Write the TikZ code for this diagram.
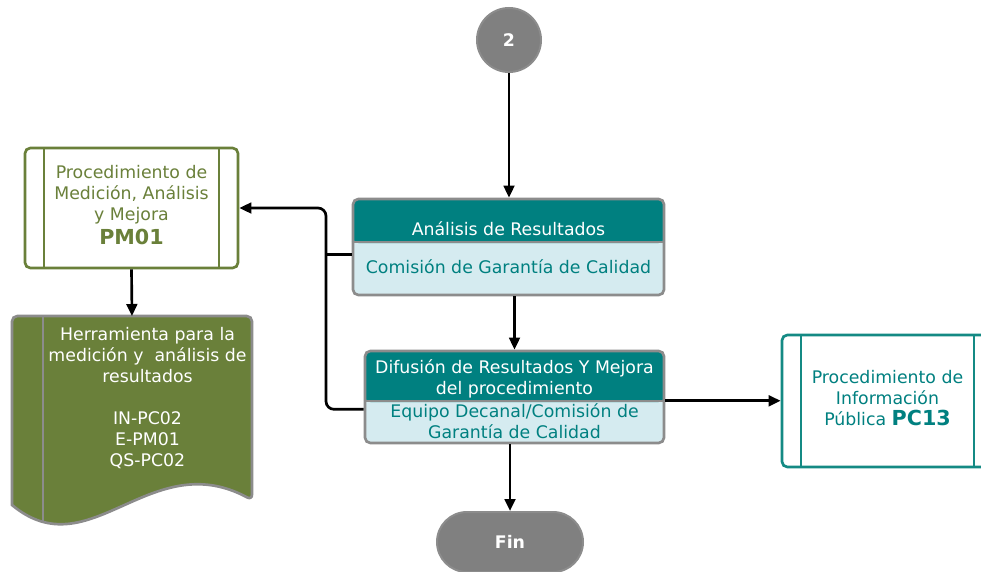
\documentclass[tikz,border=0pt]{standalone}
\usepackage{fontspec}
\setmainfont{DejaVu Sans}
\usetikzlibrary{calc,arrows.meta}
\definecolor{verdeazul}{RGB}{0,128,128}
\definecolor{celeste}{RGB}{213,235,240}
\definecolor{gris}{RGB}{140,140,140}
\definecolor{grisfondo}{RGB}{128,128,128}
\definecolor{oliva}{RGB}{106,128,58}
\definecolor{turquesa}{RGB}{20,138,132}
\tikzset{
  every node/.style={font=\fontsize{13}{15.75}\selectfont, inner sep=0pt},
  flecha/.style={line width=2pt, -{Triangle[length=9pt,width=8pt]}},
  linea/.style={line width=2pt},
  tarea/.style={draw=gris, line width=2pt, fill=celeste, rounded corners=4pt,
    path picture={\fill[verdeazul] (path picture bounding box.north west)
      rectangle ([yshift=-#1]path picture bounding box.north east);}},
  proced/.style={draw=#1, line width=2pt, fill=white, rounded corners=4pt,
    path picture={
      \draw[#1, line width=2pt] ([xshift=14.25pt]path picture bounding box.north west) -- ([xshift=14.25pt]path picture bounding box.south west);
      \draw[#1, line width=2pt] ([xshift=-14.25pt]path picture bounding box.north east) -- ([xshift=-14.25pt]path picture bounding box.south east);}},
  terminal/.style={draw=gris, line width=1.5pt, fill=grisfondo, text=white,
    font=\fontsize{13}{15}\selectfont\bfseries},
  cabtxt/.style={text=white, align=center},
  cuerpotxt/.style={text=verdeazul, align=center}
}
\begin{document}
\begin{tikzpicture}[x=0.75pt, y=-0.75pt]
\useasboundingbox (0,0) rectangle (981,571);
% conector y fin
\node[terminal, circle, minimum size=48pt] (c2) at (509,40) {2};
\node[terminal, rounded corners=22.5pt, minimum width=109.5pt, minimum height=45pt] (fin) at (510,542) {Fin};
% tareas
\node[tarea=33pt, minimum width=233.25pt, minimum height=72pt] (ana) at (508.5,247) {};
\draw[gris, line width=1.5pt] ([yshift=-33pt]ana.north west) -- ([yshift=-33pt]ana.north east);
\node[cabtxt] (anaT) at (508.5,229) {Análisis de Resultados};
\node[cuerpotxt] (anaB) at (508.5,267) {Comisión de Garantía de Calidad};
\node[tarea=38.25pt, minimum width=224.25pt, minimum height=69pt] (dif) at (514.5,397) {};
\draw[gris, line width=1.5pt] ([yshift=-38.25pt]dif.north west) -- ([yshift=-38.25pt]dif.north east);
\node[cabtxt] (difT) at (514.5,378.5) {Difusión de Resultados Y Mejora\\del procedimiento};
\node[cuerpotxt] (difB) at (514.5,421) {Equipo Decanal/Comisión de\\Garantía de Calidad};
% procedimientos
\node[proced=oliva, minimum width=159.75pt, minimum height=90pt] (pm) at (131.5,208) {};
\node[text=oliva, align=center] (pmT) at (131.5,205) {Procedimiento de\\Medición, Análisis\\y Mejora\\[2pt]{\fontsize{15.5}{18}\selectfont\bfseries PM01}};
\node[proced=turquesa, minimum width=158.25pt, minimum height=99pt] (pc) at (887.5,401) {};
\node[text=verdeazul, align=center] (pcT) at (887.5,398) {Procedimiento de\\Información\\Pública {\fontsize{15.5}{18}\selectfont\bfseries PC13}};
% documento
\draw[draw=gris, fill=oliva, line width=2pt] (12,505) [rounded corners=4pt] -- (12,316) -- (252,316) -- (252,500) [sharp corners] .. controls (150,445) and (90,570) .. (12,505) -- cycle;
\draw[gris, line width=2pt] (43,317) -- (43,521);
\coordinate (docN) at (132,316);
\node[text=white, align=center] (doc) at (147.5,398) {Herramienta para la\\medición y\ \ análisis de\\resultados\\[15.75pt]IN-PC02\\E-PM01\\QS-PC02};
% flechas
\draw[flecha] (c2) -- (c2 |- ana.north);
\draw[flecha] (ana.south -| dif.north) -- (dif.north);
\draw[flecha] (dif.south -| fin.north) -- (fin);
\draw[flecha] (pm.south) -- (docN);
\coordinate (difR) at ($(dif.north east)!0.54!(dif.south east)$);
\draw[flecha] (difR) -- (difR -| pc.west);
\coordinate (anaL) at ($(ana.north west)!0.573!(ana.south west)$);
\coordinate (difL) at ($(dif.north west)!0.63!(dif.south west)$);
\coordinate (codo) at (326,208);
\draw[flecha, rounded corners=6pt] (difL) -| (codo) -- (pm.east);
\draw[linea] (anaL) -- (anaL -| codo);
\end{tikzpicture}
\end{document}
